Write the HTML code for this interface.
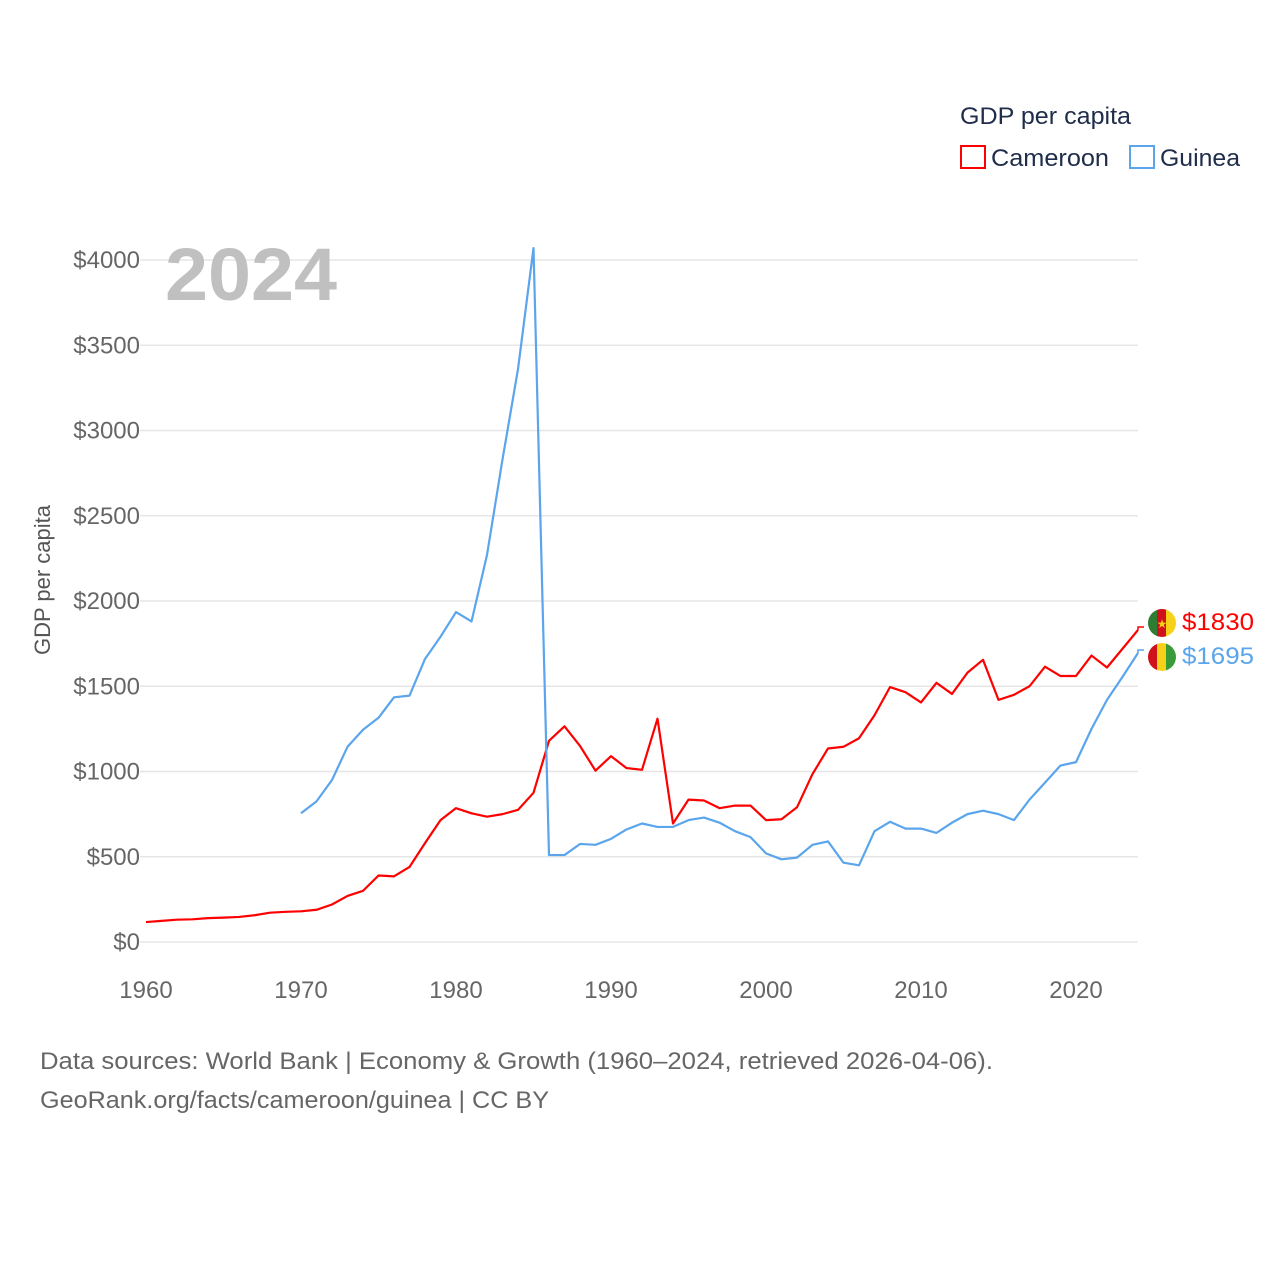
<!DOCTYPE html>
<html><head><meta charset="utf-8"><style>
body{margin:0;background:#fff;font-family:"Liberation Sans",sans-serif;}
svg text{font-family:"Liberation Sans",sans-serif;}
</style></head><body>
<svg id="chart" width="1280" height="1280" viewBox="0 0 1280 1280" xmlns="http://www.w3.org/2000/svg">
<rect width="1280" height="1280" fill="#fff"/>
<g id="grid"></g><g id="yt"></g><g id="xt"></g>
<text x="165" y="300" font-size="74" font-weight="bold" fill="#c0c0c0" textLength="172" lengthAdjust="spacingAndGlyphs">2024</text>
<text transform="translate(50,580) rotate(-90)" text-anchor="middle" font-size="22" fill="#555">GDP per capita</text>
<g id="series"></g>
<g>
<text x="960" y="124" font-size="24" fill="#1f2d4a" textLength="171" lengthAdjust="spacingAndGlyphs">GDP per capita</text>
<rect x="961" y="146" width="24" height="22" fill="none" stroke="#f00" stroke-width="2"/>
<text x="991" y="166" font-size="24" fill="#1f2d4a" textLength="118" lengthAdjust="spacingAndGlyphs">Cameroon</text>
<rect x="1130" y="146" width="24" height="22" fill="none" stroke="#5aa5ec" stroke-width="2"/>
<text x="1160" y="166" font-size="24" fill="#1f2d4a" textLength="80" lengthAdjust="spacingAndGlyphs">Guinea</text>
</g>
<g>
<clipPath id="c1"><circle cx="1162" cy="623" r="14"/></clipPath>
<g clip-path="url(#c1)"><rect x="1148" y="609" width="10" height="28" fill="#2e7d32"/><rect x="1157" y="609" width="10" height="28" fill="#d0101a"/><rect x="1166" y="609" width="10" height="28" fill="#f7d117"/></g>
<text x="1162" y="628" font-size="12" fill="#f7d117" text-anchor="middle">★</text>
</g>
<g>
<clipPath id="c2"><circle cx="1162" cy="657" r="14"/></clipPath>
<g clip-path="url(#c2)"><rect x="1148" y="643" width="10" height="28" fill="#d0101a"/><rect x="1157" y="643" width="10" height="28" fill="#f7d117"/><rect x="1166" y="643" width="10" height="28" fill="#3a9a3a"/></g>
</g>
<text x="1182" y="630" font-size="24" fill="#f00" textLength="72" lengthAdjust="spacingAndGlyphs">$1830</text>
<text x="1182" y="664" font-size="24" fill="#5aa5ec" textLength="72" lengthAdjust="spacingAndGlyphs">$1695</text>
<text x="40" y="1069" font-size="24" fill="#666" textLength="953" lengthAdjust="spacingAndGlyphs">Data sources: World Bank | Economy &amp; Growth (1960–2024, retrieved 2026-04-06).</text>
<text x="40" y="1108" font-size="24" fill="#666" textLength="509" lengthAdjust="spacingAndGlyphs">GeoRank.org/facts/cameroon/guinea | CC BY</text>
</svg>
<script>
const cameroonYears=[1960,1961,1962,1963,1964,1965,1966,1967,1968,1969,1970,1971,1972,1973,1974,1975,1976,1977,1978,1979,1980,1981,1982,1983,1984,1985,1986,1987,1988,1989,1990,1991,1992,1993,1994,1995,1996,1997,1998,1999,2000,2001,2002,2003,2004,2005,2006,2007,2008,2009,2010,2011,2012,2013,2014,2015,2016,2017,2018,2019,2020,2021,2022,2023,2024];
const cameroonValues=[117,124,131,133,140,143,147,157,172,177,180,189,220,270,300,390,385,440,580,715,785,755,735,750,775,875,1180,1265,1150,1005,1090,1020,1010,1310,695,835,830,785,800,800,715,720,790,985,1135,1145,1195,1330,1495,1465,1405,1520,1455,1580,1655,1420,1450,1500,1615,1560,1560,1680,1610,1720,1830];
const guineaYears=[1970,1971,1972,1973,1974,1975,1976,1977,1978,1979,1980,1981,1982,1983,1984,1985,1986,1987,1988,1989,1990,1991,1992,1993,1994,1995,1996,1997,1998,1999,2000,2001,2002,2003,2004,2005,2006,2007,2008,2009,2010,2011,2012,2013,2014,2015,2016,2017,2018,2019,2020,2021,2022,2023,2024];
const guineaValues=[755,825,950,1145,1245,1315,1435,1445,1660,1790,1935,1880,2270,2830,3360,4070,510,510,575,570,605,660,695,675,675,715,730,700,650,615,520,485,495,570,590,465,450,650,705,665,665,640,700,750,770,750,715,835,935,1035,1055,1250,1420,1555,1695];
const yTicks=[0,500,1000,1500,2000,2500,3000,3500,4000];
const yTickLabels=["$0","$500","$1000","$1500","$2000","$2500","$3000","$3500","$4000"];
const xTicks=[1960,1970,1980,1990,2000,2010,2020];
const NS="http://www.w3.org/2000/svg";
const xs=y=>146+(y-1960)*15.5;
const ys=v=>942-v*0.1705;
function mk(tag,attrs,parent){const e=document.createElementNS(NS,tag);for(const k in attrs)e.setAttribute(k,attrs[k]);document.getElementById(parent).appendChild(e);return e;}
yTicks.forEach((v,i)=>{
 const l=mk('line',{x1:140,x2:1138,y1:ys(v),y2:ys(v),stroke:'#e6e6e6','stroke-width':1.5},'grid');
 
 
 const t=mk('text',{x:140,y:ys(v)+8,'text-anchor':'end','font-size':24,fill:'#666'},'yt');
 t.textContent=yTickLabels[i];
 
 
});
xTicks.forEach(y=>{
 const t=mk('text',{x:xs(y),y:998,'text-anchor':'middle','font-size':24,fill:'#666'},'xt');
 t.textContent=y;
 
 
});
function line(years,vals,color,name){
 const pts=years.map((y,i)=>xs(y)+','+ys(vals[i])).join(' ');
 const p=mk('polyline',{points:pts,fill:'none',stroke:color,'stroke-width':2.2,'stroke-linejoin':'round'},'series');
 
 
 const last=vals[vals.length-1];
 const c=mk('polyline',{points:`${xs(2024)},${ys(last)} ${xs(2024)},${ys(last)-3} ${xs(2024)+6},${ys(last)-3}`,fill:'none',stroke:color,'stroke-width':1.5},'series');
 
 
}
line(cameroonYears,cameroonValues,'#ff0000','cameroon-line');
line(guineaYears,guineaValues,'#5aa5ec','guinea-line');
</script>
</body></html>
